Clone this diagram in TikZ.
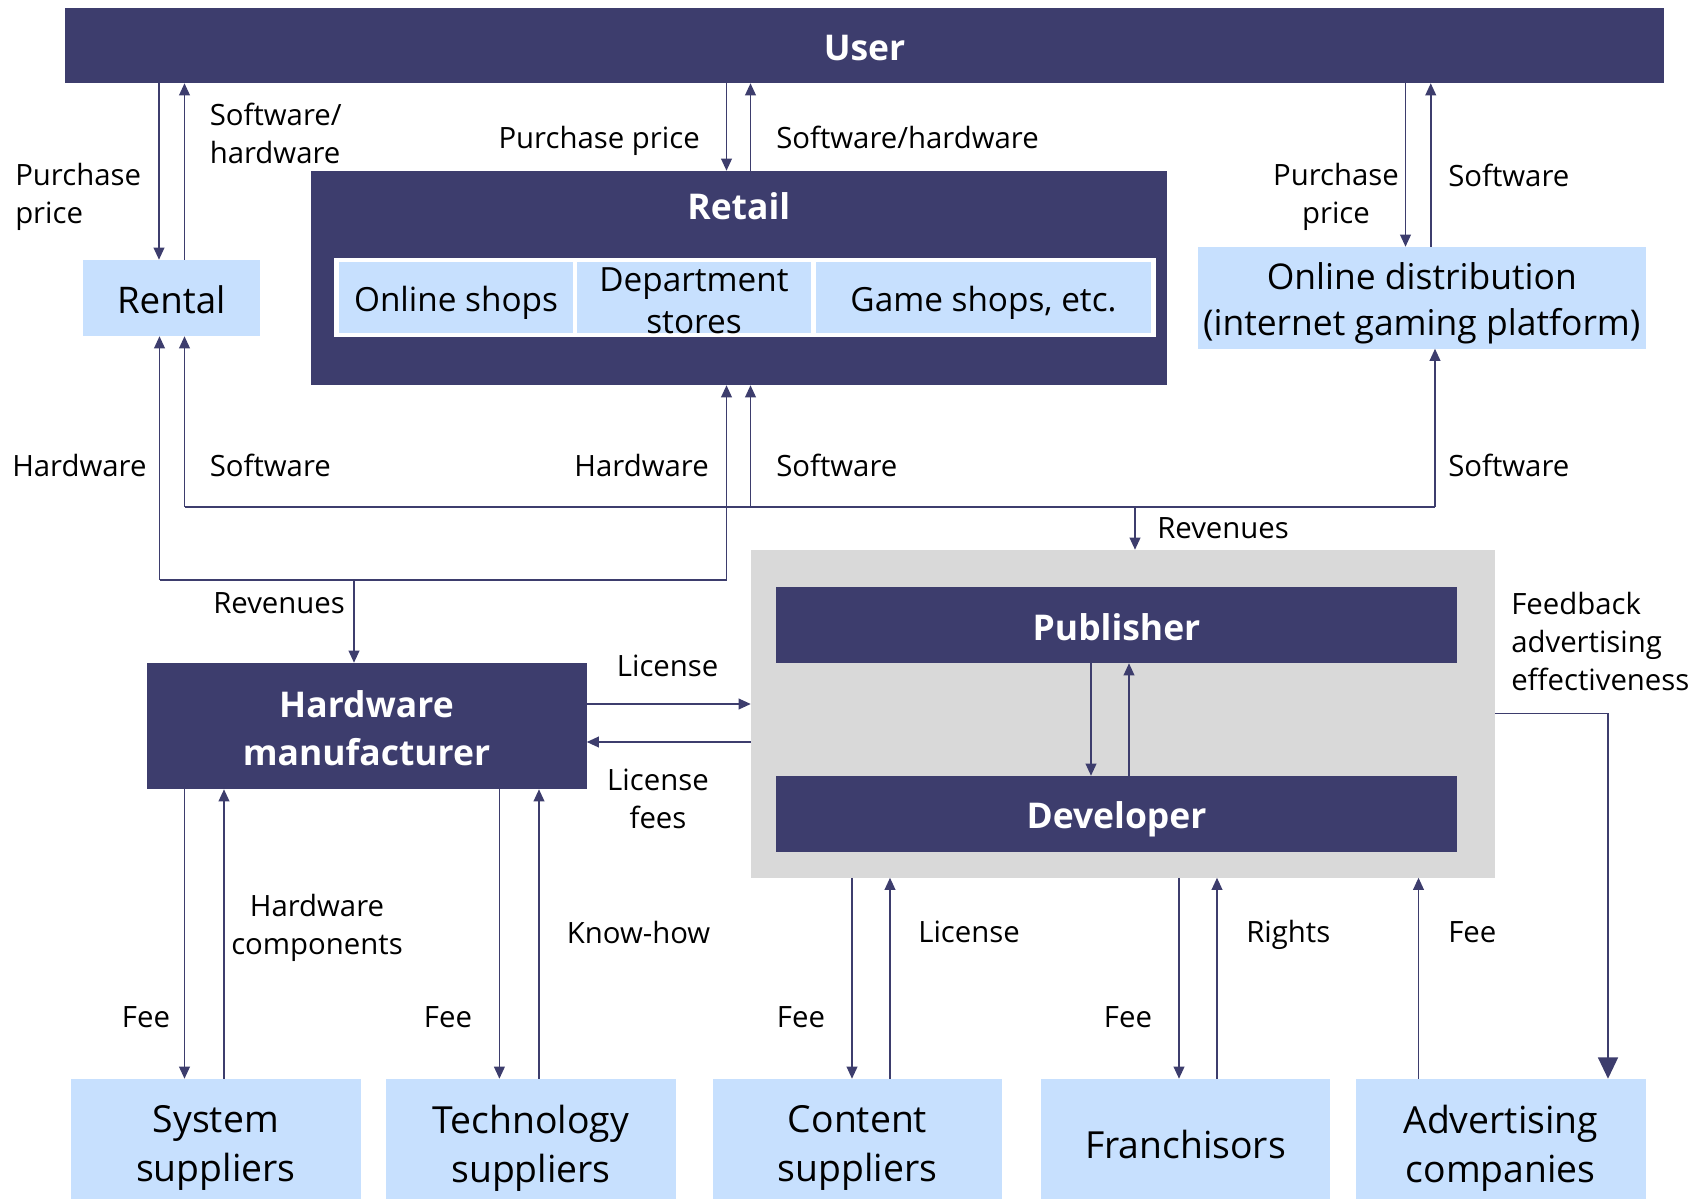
\documentclass[tikz,border=0pt]{standalone}
\usepackage{fontspec}
\setmainfont{Open Sans}
\usetikzlibrary{arrows.meta,calc}
\definecolor{navy}{RGB}{61,61,109}
\definecolor{lblue}{RGB}{199,224,254}
\definecolor{lgrey}{RGB}{217,217,217}
\newcommand{\lblfont}{\fontsize{22pt}{28.5pt}\selectfont}
\newcommand{\boxfont}{\fontsize{28pt}{37pt}\selectfont}
\newcommand{\onlinefont}{\fontsize{26.6pt}{34pt}\selectfont}
\newcommand{\cellfont}{\fontsize{25pt}{31.5pt}\selectfont}
\newcommand{\hdfont}{\fontsize{26.6pt}{36pt}\selectfont\bfseries}
\begin{document}
\begin{tikzpicture}[x=0.75pt,y=-0.75pt,
  darkbox/.style={fill=navy,draw=none,inner sep=0},
  lightbox/.style={fill=lblue,draw=none,inner sep=0},
  hdtxt/.style={inner sep=0,text=white,font=\hdfont,align=center},
  boxtxt/.style={inner sep=0,font=\boxfont,align=center},
  celltxt/.style={inner sep=0,font=\cellfont,align=center},
  lbl/.style={inner sep=0,font=\lblfont,align=left},
  lblc/.style={inner sep=0,font=\lblfont,align=center},
  flow/.style={draw=navy,line width=1.1pt},
  arr/.style={flow,-{Triangle[length=9pt,width=8pt]}},
  bigarr/.style={flow,-{Triangle[length=16pt,width=15pt]}}]
\useasboundingbox (0,0) rectangle (1702,1199);

% ---------- boxes ----------
\node[darkbox,minimum width=1599*0.75pt,minimum height=75*0.75pt] (user) at (864.5,45.5) {};
\node[hdtxt] (usert) at ($(user)+(0,2.2)$) {User};
\node[lightbox,minimum width=176.5*0.75pt,minimum height=76*0.75pt] (rental) at (171.25,298) {};
\node[boxtxt,font=\fontsize{27.5pt}{36pt}\selectfont] (rentalt) at ($(rental)+(0,2.2)$) {Rental};
\node[darkbox,minimum width=856.5*0.75pt,minimum height=214*0.75pt] (retail) at (738.75,278) {};
\node[hdtxt] (retailt) at (738.75,206) {Retail};
\node[fill=white,inner sep=0,minimum width=822*0.75pt,minimum height=79*0.75pt] (shelf) at (745,297.5) {};
\node[lightbox,minimum width=234*0.75pt,minimum height=71*0.75pt] (shops) at (456,297.5) {};
\node[celltxt] (shopst) at ($(shops)+(0,5.4)$) {Online shops};
\node[lightbox,minimum width=234*0.75pt,minimum height=71*0.75pt] (dept) at (694,297.5) {};
\node[celltxt] (deptt) at ($(dept)+(0,3)$) {Department\\stores};
\node[lightbox,minimum width=335*0.75pt,minimum height=71*0.75pt] (game) at (983.5,297.5) {};
\node[celltxt] (gamet) at ($(game)+(0,5.4)$) {Game shops, etc.};
\node[lightbox,minimum width=447.5*0.75pt,minimum height=101.5*0.75pt] (online) at (1421.75,297.75) {};
\node[boxtxt,font=\onlinefont] (onlinet) at ($(online)+(0,5.4)$) {Online distribution\\(internet gaming platform)};

\node[fill=lgrey,inner sep=0,minimum width=744*0.75pt,minimum height=327.5*0.75pt] (grey) at (1123,713.75) {};
\node[darkbox,minimum width=681*0.75pt,minimum height=76*0.75pt] (publisher) at (1116.5,625) {};
\node[hdtxt] (publishert) at ($(publisher)+(0,2.2)$) {Publisher};
\node[darkbox,minimum width=681*0.75pt,minimum height=76*0.75pt] (developer) at (1116.5,814) {};
\node[hdtxt] (developert) at ($(developer)+(0,5.4)$) {Developer};
\node[darkbox,minimum width=440*0.75pt,minimum height=126*0.75pt] (hwm) at (366.5,726) {};
\node[hdtxt] (hwmt) at ($(hwm)+(0,2.2)$) {Hardware\\manufacturer};

\node[lightbox,minimum width=289.5*0.75pt,minimum height=120*0.75pt] (system) at (215.75,1139) {};
\node[boxtxt] (systemt) at ($(system)+(0,9.2)$) {System\\suppliers};
\node[lightbox,minimum width=290*0.75pt,minimum height=120*0.75pt] (tech) at (531,1139) {};
\node[boxtxt] (techt) at ($(tech)+(0,9.2)$) {Technology\\suppliers};
\node[lightbox,minimum width=289*0.75pt,minimum height=120*0.75pt] (content) at (857.5,1139) {};
\node[boxtxt] (contentt) at ($(content)+(0,9.2)$) {Content\\suppliers};
\node[lightbox,minimum width=289*0.75pt,minimum height=120*0.75pt] (franch) at (1185.5,1139) {};
\node[boxtxt] (francht) at ($(franch)+(0,5.4)$) {Franchisors};
\node[lightbox,minimum width=289.5*0.75pt,minimum height=120*0.75pt] (advert) at (1500.75,1139) {};
\node[boxtxt] (advertt) at ($(advert)+(0,9.2)$) {Advertising\\companies};

% ---------- connectors: user level ----------
\coordinate (r1) at ($(rental.north)+(-12.25,0)$);
\coordinate (r2) at ($(rental.north)+(13.25,0)$);
\draw[arr] (user.south -| r1) -- (r1);
\draw[arr] (r2) -- (user.south -| r2);
\coordinate (rt1) at ($(retail.north)+(-12.25,0)$);
\coordinate (rt2) at ($(retail.north)+(11.75,0)$);
\draw[arr] (user.south -| rt1) -- (rt1);
\draw[arr] (rt2) -- (user.south -| rt2);
\coordinate (o1) at ($(online.north)+(-16.25,0)$);
\coordinate (o2) at ($(online.north)+(9,0)$);
\draw[arr] (user.south -| o1) -- (o1);
\draw[arr] (o2) -- (user.south -| o2);

% ---------- software bus ----------
\coordinate (swbus) at (0,507);
\coordinate (hwbus) at (0,580);
\coordinate (r3) at ($(rental.south)+(13.25,0)$);
\coordinate (rt3) at ($(retail.south)+(11.75,0)$);
\coordinate (o3) at ($(online.south)+(13.25,0)$);
\coordinate (g1) at ($(grey.north)+(12,0)$);
\draw[flow] (r3 |- swbus) -- (o3 |- swbus);
\draw[arr] (r3 |- swbus) -- (r3);
\draw[arr] (rt3 |- swbus) -- (rt3);
\draw[arr] (o3 |- swbus) -- (o3);
\draw[arr] (g1 |- swbus) -- (g1);

% ---------- hardware bus ----------
\coordinate (r4) at ($(rental.south)+(-11.75,0)$);
\coordinate (rt4) at ($(retail.south)+(-12.25,0)$);
\coordinate (h1) at ($(hwm.north)+(-12.5,0)$);
\draw[flow] (r4 |- hwbus) -- (rt4 |- hwbus);
\draw[arr] (r4 |- hwbus) -- (r4);
\draw[arr] (rt4 |- hwbus) -- (rt4);
\draw[arr] (h1 |- hwbus) -- (h1);

% ---------- license ----------
\coordinate (l1) at ($(hwm.east)+(0,-22)$);
\coordinate (l2) at ($(hwm.east)+(0,16)$);
\draw[arr] (l1) -- (l1 -| grey.west);
\draw[arr] (l2 -| grey.west) -- (l2);

% ---------- publisher / developer ----------
\coordinate (p1) at ($(publisher.south)+(-25.5,0)$);
\coordinate (p2) at ($(publisher.south)+(12.5,0)$);
\draw[arr] (p1) -- (developer.north -| p1);
\draw[arr] (developer.north -| p2) -- (p2);

% ---------- suppliers ----------
\coordinate (s1) at ($(system.north)+(-31.25,0)$);
\coordinate (s2) at ($(system.north)+(8.25,0)$);
\draw[arr] (hwm.south -| s1) -- (s1);
\draw[arr] (s2) -- (hwm.south -| s2);
\coordinate (t1) at ($(tech.north)+(-31.6,0)$);
\coordinate (t2) at ($(tech.north)+(8,0)$);
\draw[arr] (hwm.south -| t1) -- (t1);
\draw[arr] (t2) -- (hwm.south -| t2);
\coordinate (c1) at ($(content.north)+(-5.5,0)$);
\coordinate (c2) at ($(content.north)+(32.5,0)$);
\draw[arr] (grey.south -| c1) -- (c1);
\draw[arr] (c2) -- (grey.south -| c2);
\coordinate (f1) at ($(franch.north)+(-6.5,0)$);
\coordinate (f2) at ($(franch.north)+(31.5,0)$);
\draw[arr] (grey.south -| f1) -- (f1);
\draw[arr] (f2) -- (grey.south -| f2);
\coordinate (a1) at ($(advert.north)+(-82.25,0)$);
\coordinate (a2) at ($(advert.north)+(107.25,0)$);
\draw[arr] (a1) -- (grey.south -| a1);
\draw[bigarr] (grey.east) -| (a2);

% ---------- labels ----------
\node[lbl,anchor=west] (pp1) at (15,196.5) {Purchase\\price};
\node[lbl,anchor=west] (sh1) at (209.5,133) {Software/\\hardware};
\node[lbl,anchor=east] (pp2) at (700,140.5) {Purchase price};
\node[lbl,anchor=west] (sh2) at (776,137) {Software/hardware};
\node[lblc] (pp3) at (1336,196.5) {Purchase\\price};
\node[lbl,anchor=west] (sw3) at (1448,175) {Software};
\node[lbl,anchor=west] (hw4) at (12,465) {Hardware};
\node[lbl,anchor=west] (sw4) at (209.5,465) {Software};
\node[lbl,anchor=east] (hw5) at (709,465) {Hardware};
\node[lbl,anchor=west] (sw5) at (776,465) {Software};
\node[lbl,anchor=west] (sw6) at (1448,465) {Software};
\node[lbl,anchor=west] (rev1) at (1157,528.5) {Revenues};
\node[lbl,anchor=west] (rev2) at (213,603.5) {Revenues};
\node[lbl,anchor=west] (lic1) at (616.6,666) {License};
\node[lblc] (licf) at (658,799) {License\\fees};
\node[lbl,anchor=west] (fb) at (1511,641) {Feedback\\advertising\\effectiveness};
\node[lblc] (hwc) at (317,927.8) {Hardware\\components};
\node[lbl,anchor=west] (kh) at (566.6,932) {Know-how};
\node[lblc] (fee1) at (146,1017) {Fee};
\node[lblc] (fee2) at (448,1017) {Fee};
\node[lblc] (fee3) at (801,1017) {Fee};
\node[lblc] (fee4) at (1128,1017) {Fee};
\node[lbl,anchor=west] (lic2) at (918,932) {License};
\node[lbl,anchor=west] (rights) at (1246,935.3) {Rights};
\node[lbl,anchor=west] (fee5) at (1448,932) {Fee};
\end{tikzpicture}
\end{document}
